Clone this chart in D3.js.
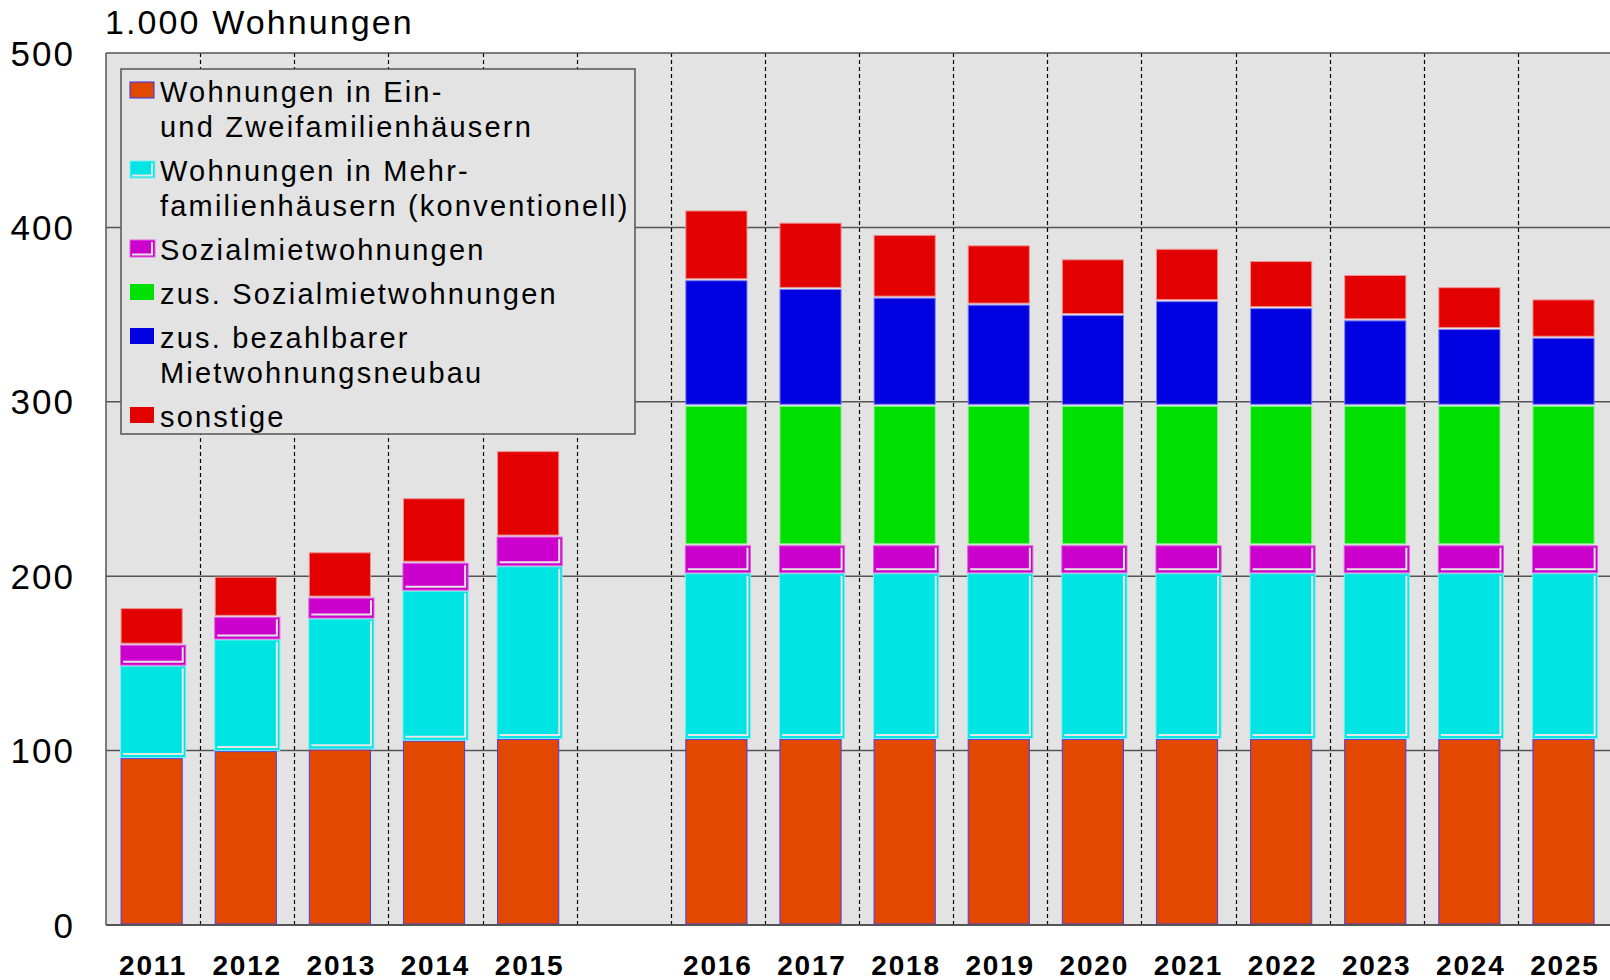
<!DOCTYPE html>
<html>
<head>
<meta charset="utf-8">
<script src="https://cdn.jsdelivr.net/npm/d3@7"></script>
<style>
  body { margin: 0; background: #fff; }
  svg { display: block; }
  text { font-family: "Liberation Sans", Arial, sans-serif; fill: #000; }
</style>
</head>
<body>
<svg id="chart" width="1610" height="980"></svg>
<script>
// daten (1.000 Wohnungen)
var years = ["2011","2012","2013","2014","2015","2016","2017","2018","2019","2020","2021","2022","2023","2024","2025"];
var slots = ["2011","2012","2013","2014","2015","luecke","2016","2017","2018","2019","2020","2021","2022","2023","2024","2025"];
var einZwei      = [96, 100, 101, 106, 107, 107, 107, 107, 107, 107, 107, 107, 107, 107, 107];
var mehr         = [53,  64,  75,  86,  99,  95,  95,  95,  95,  95,  95,  95,  95,  95,  95];
var sozial       = [12,  13,  12,  16,  17,  16,  16,  16,  16,  16,  16,  16,  16,  16,  16];
var zusSozial    = [ 0,   0,   0,   0,   0,  80,  80,  80,  80,  80,  80,  80,  80,  80,  80];
var zusBezahlbar = [ 0,   0,   0,   0,   0,  72,  67,  62,  58,  52,  60,  56,  49,  44,  39];
var sonstige     = [21,  23,  26,  37,  49,  40,  38,  36,  34,  32,  30,  27,  26,  24,  22];
var yTicks = [0, 100, 200, 300, 400, 500];

var keys = ["einZwei","mehr","sozial","zusSozial","zusBezahlbar","sonstige"];
var legendLabels = [
  ["Wohnungen in Ein-", "und Zweifamilienhäusern"],
  ["Wohnungen in Mehr-", "familienhäusern (konventionell)"],
  ["Sozialmietwohnungen"],
  ["zus. Sozialmietwohnungen"],
  ["zus. bezahlbarer", "Mietwohnungsneubau"],
  ["sonstige"]
];
var fills   = {einZwei:"#e34800", mehr:"#00e4e4", sozial:"#cc00cc", zusSozial:"#00e000", zusBezahlbar:"#0000e0", sonstige:"#e20000"};
var strokes = {einZwei:"#4a3cf0", mehr:"#7ff0f0", sozial:"#e060e0", zusSozial:"#90f090", zusBezahlbar:"#8080f4", sonstige:"#f09090"};
var shadowed = {mehr:true, sozial:true};

var table = years.map(function(y,i){
  return {year:y, einZwei:einZwei[i], mehr:mehr[i], sozial:sozial[i],
          zusSozial:zusSozial[i], zusBezahlbar:zusBezahlbar[i], sonstige:sonstige[i]};
});
var stacked = d3.stack().keys(keys)(table);

var svg = d3.select("#chart");
var pLeft = 106, pRight = 1612, pTop = 53, pBottom = 925;

var x = d3.scaleBand().domain(slots).range([pLeft, pRight]).padding(0);
var y = d3.scaleLinear().domain([0, 500]).range([pBottom, pTop]);
var bw = x.bandwidth() * 0.65, boff = x.bandwidth() * 0.16;

// hintergrund
svg.append("rect").attr("x", pLeft).attr("y", pTop).attr("width", pRight-pLeft).attr("height", pBottom-pTop)
  .attr("fill", "#e3e3e3");

// gitter
svg.selectAll(".grid").data(yTicks.slice(1, -1)).enter().append("line")
  .attr("x1", pLeft).attr("x2", pRight).attr("y1", d=>y(d)).attr("y2", d=>y(d))
  .attr("stroke", "#555").attr("stroke-width", 1.5);
svg.selectAll(".vgrid").data(slots.slice(1)).enter().append("line")
  .attr("x1", d=>Math.round(x(d))+0.5).attr("x2", d=>Math.round(x(d))+0.5).attr("y1", pTop).attr("y2", pBottom)
  .attr("stroke", "#000").attr("stroke-width", 1.2).attr("stroke-dasharray", "4,3");

// balken
stacked.forEach(function(s){
  var k = s.key;
  var g = svg.append("g");
  s.forEach(function(d){
    if (d[1] - d[0] <= 0) return;
    var bx = x(d.data.year) + boff;
    var yt = y(d[1]) + 1, yb = y(d[0]) - 1;
    if (shadowed[k]) {
      g.append("rect").attr("x", bx-0.5).attr("y", yt).attr("width", bw+4).attr("height", yb-yt+1)
        .attr("fill", fills[k]).attr("stroke", strokes[k]).attr("stroke-width", 1);
      g.append("path").attr("d", "M" + (bx+2) + "," + (yb-2.5) + "H" + (bx+bw+0.5) + "V" + (yt+2))
        .attr("fill", "none").attr("stroke", "#e6e6e6").attr("stroke-width", 2);
    } else {
      g.append("rect").attr("x", bx).attr("y", yt).attr("width", bw).attr("height", yb-yt)
        .attr("fill", fills[k]).attr("stroke", strokes[k]).attr("stroke-width", 1);
    }
  });
});

// rahmen
svg.append("line").attr("x1", pLeft).attr("x2", pRight).attr("y1", pTop).attr("y2", pTop).attr("stroke", "#555").attr("stroke-width", 1.5);
svg.append("line").attr("x1", pLeft).attr("x2", pLeft).attr("y1", pTop).attr("y2", pBottom).attr("stroke", "#555").attr("stroke-width", 1.5);
svg.append("line").attr("x1", pLeft).attr("x2", pRight).attr("y1", pBottom).attr("y2", pBottom).attr("stroke", "#555").attr("stroke-width", 2);

// achsen
svg.selectAll(".ylab").data(yTicks).enter().append("text")
  .attr("x", 75).attr("y", d=>y(d)).attr("dy", "0.36em").attr("text-anchor", "end")
  .attr("font-size", 35).attr("letter-spacing", 2).text(d=>d);
svg.selectAll(".xlab").data(years).enter().append("text")
  .attr("x", d=>x(d)+x.bandwidth()/2).attr("y", 975).attr("text-anchor", "middle")
  .attr("font-size", 28).attr("font-weight", "bold").attr("letter-spacing", 1.8).text(d=>d);
svg.append("text").attr("x", 105).attr("y", 34).attr("font-size", 34).attr("letter-spacing", 2.1)
  .text("1.000 Wohnungen");

// legende
var lg = svg.append("g");
lg.append("rect").attr("x", 121).attr("y", 69).attr("width", 514).attr("height", 365)
  .attr("fill", "#e3e3e3").attr("stroke", "#555").attr("stroke-width", 1.5);
var ly = 100;
keys.forEach(function(k, i){
  var sx = 130, sy = ly - 18;
  if (shadowed[k]) {
    lg.append("rect").attr("x", sx).attr("y", sy).attr("width", 25).attr("height", 17)
      .attr("fill", fills[k]).attr("stroke", strokes[k]);
    lg.append("path").attr("d", "M" + (sx+2) + "," + (sy+14.5) + "H" + (sx+22) + "V" + (sy+2))
      .attr("fill", "none").attr("stroke", "#e6e6e6").attr("stroke-width", 2);
  } else {
    lg.append("rect").attr("x", sx).attr("y", sy).attr("width", 24).attr("height", 16)
      .attr("fill", fills[k]).attr("stroke", k === "einZwei" ? "#3030f0" : "none");
  }
  legendLabels[i].forEach(function(t, j){
    lg.append("text").attr("x", 160).attr("y", ly + j*35 + 2).attr("font-size", 29)
      .attr("letter-spacing", 2.2).text(t);
  });
  ly += (legendLabels[i].length - 1) * 35 + 44;
});
</script>
</body>
</html>
